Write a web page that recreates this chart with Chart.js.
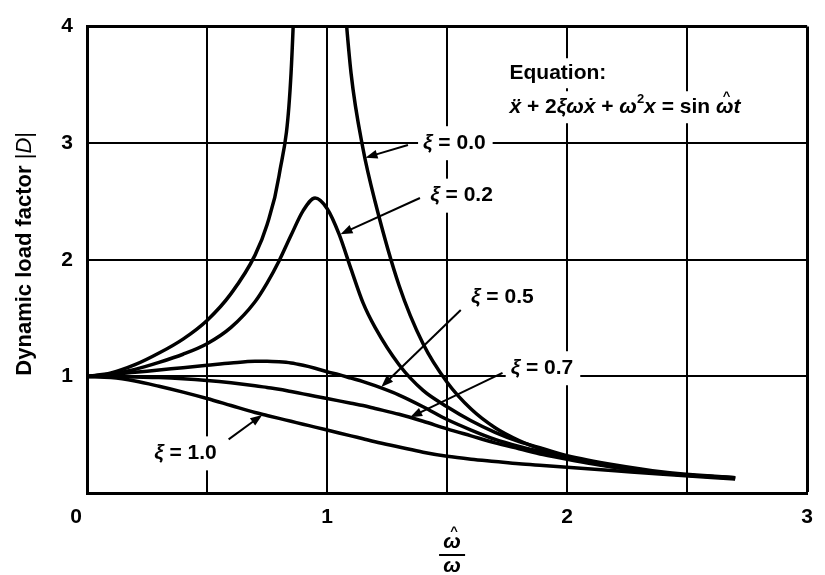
<!DOCTYPE html>
<html>
<head>
<meta charset="utf-8">
<script src="https://cdn.jsdelivr.net/npm/chart.js@4.4.0/dist/chart.umd.min.js"></script>
<style>
  html, body { margin: 0; padding: 0; background: #fff; }
  #wrap { width: 825px; height: 575px; position: relative; }
</style>
</head>
<body>
<div id="wrap"><canvas id="dlfChart"></canvas></div>
<script>
// frequency ratio (omega hat / omega) where the curves were read
var ratio = [0, 0.1, 0.2, 0.3, 0.4, 0.5, 0.6, 0.7, 0.75, 0.8, 0.85, 0.9, 0.95, 1.0, 1.05, 1.1, 1.15, 1.2, 1.3, 1.4, 1.5, 1.6, 1.7, 1.8, 1.9, 2.0, 2.2, 2.4, 2.7];

// dynamic load factor |D|
var damp00 = [1, 1.03, 1.1, 1.2, 1.32, 1.48, 1.71, 2.04, 2.3, 2.72, 3.6, 6.5, null, null, 4.8, 3.6, 2.95, 2.5, 1.78, 1.28, 0.95, 0.72, 0.56, 0.45, 0.37, 0.31, 0.22, 0.17, 0.13];
var damp02 = [1, 1.02, 1.06, 1.12, 1.19, 1.28, 1.42, 1.64, 1.8, 1.99, 2.21, 2.42, 2.53, 2.44, 2.22, 1.92, 1.63, 1.42, 1.1, 0.88, 0.74, 0.62, 0.52, 0.44, 0.38, 0.32, 0.24, 0.18, 0.13];
var damp05 = [1, 1.015, 1.035, 1.055, 1.075, 1.095, 1.115, 1.13, 1.13, 1.125, 1.115, 1.095, 1.07, 1.04, 1.015, 0.985, 0.955, 0.92, 0.84, 0.74, 0.63, 0.54, 0.46, 0.4, 0.35, 0.3, 0.23, 0.17, 0.13];
var damp07 = [1, 1.0, 0.995, 0.99, 0.98, 0.965, 0.945, 0.92, 0.905, 0.89, 0.87, 0.85, 0.83, 0.81, 0.79, 0.77, 0.75, 0.725, 0.675, 0.615, 0.55, 0.49, 0.43, 0.38, 0.33, 0.29, 0.22, 0.17, 0.125];
var damp10 = [1, 0.99, 0.96, 0.915, 0.865, 0.81, 0.75, 0.69, 0.665, 0.64, 0.615, 0.59, 0.565, 0.54, 0.515, 0.49, 0.465, 0.44, 0.395, 0.35, 0.315, 0.29, 0.27, 0.25, 0.235, 0.22, 0.19, 0.16, 0.12];

var xTickLabels = [0, 1, 2, 3];
var yTickLabels = [1, 2, 3, 4];

var curveNames = ['0.0', '0.2', '0.5', '0.7', '1.0'];

// where the curve labels and their arrows sit, in data units
var notePos = [[1.40, 3.0], [1.43, 2.55], [1.60, 1.68], [1.765, 1.07], [0.28, 0.34]];
var arrowFrom = [[1.337, 2.985], [1.387, 2.53], [1.557, 1.57], [1.731, 1.03], [0.59, 0.46]];
var arrowTo = [[1.16, 2.876], [1.056, 2.22], [1.226, 0.91], [1.346, 0.65], [0.73, 0.67]];
var eqPos = [1.76, 3.6];

var FAMILY = '"Liberation Sans", Arial, Helvetica, sans-serif';
var FS = 21;

function makePoints(ys) {
    return ratio.map(function (r, i) { return { x: r, y: ys[i] }; });
}

function setFont(ctx, p, size) {
    var fs = p.sup ? Math.round(size * 0.62) : size;
    ctx.font = (p.i ? 'italic ' : '') + (p.light ? '' : 'bold ') + fs + 'px ' + FAMILY;
}

function partsWidth(ctx, parts, size) {
    var w = 0;
    parts.forEach(function (p) {
        setFont(ctx, p, size);
        w += ctx.measureText(p.t).width;
    });
    return w;
}

function drawHat(ctx, x, y) {
    ctx.save();
    ctx.font = 'bold 13px ' + FAMILY;
    ctx.textAlign = 'center';
    ctx.textBaseline = 'middle';
    ctx.fillText('^', x, y);
    ctx.restore();
}

function drawParts(ctx, parts, x, y, size) {
    var cx = x;
    parts.forEach(function (p) {
        setFont(ctx, p, size);
        var w = ctx.measureText(p.t).width;
        ctx.fillText(p.t, cx, p.sup ? y - size * 0.38 : y);
        // circumflex placed by hand, combining marks land on the wrong glyph
        if (p.hat) drawHat(ctx, cx + w / 2 + 2, y - 11);
        cx += w;
    });
    return cx - x;
}

function labelParts(name) {
    return [{ t: 'ξ', i: 1 }, { t: ' = ' + name }];
}

var eqLine1 = [{ t: 'Equation:' }];
var eqLine2 = [
    { t: 'ẍ', i: 1 }, { t: ' + 2' }, { t: 'ξω', i: 1 }, { t: 'ẋ', i: 1 }, { t: ' + ' },
    { t: 'ω', i: 1 }, { t: '2', sup: 1 }, { t: 'x', i: 1 }, { t: ' = sin ' },
    { t: 'ω', i: 1, hat: 1 }, { t: 't', i: 1 }
];

function px(chart, pt) {
    return [chart.scales.x.getPixelForValue(pt[0]), chart.scales.y.getPixelForValue(pt[1])];
}

function arrow(ctx, a, b) {
    var ang = Math.atan2(b[1] - a[1], b[0] - a[0]);
    var len = 12, half = 4.5;
    ctx.beginPath();
    ctx.moveTo(a[0], a[1]);
    ctx.lineTo(b[0] - Math.cos(ang) * len * 0.8, b[1] - Math.sin(ang) * len * 0.8);
    ctx.stroke();
    ctx.beginPath();
    ctx.moveTo(b[0], b[1]);
    ctx.lineTo(b[0] - Math.cos(ang) * len - Math.sin(ang) * half, b[1] - Math.sin(ang) * len + Math.cos(ang) * half);
    ctx.lineTo(b[0] - Math.cos(ang) * len + Math.sin(ang) * half, b[1] - Math.sin(ang) * len - Math.cos(ang) * half);
    ctx.closePath();
    ctx.fill();
}

var annotate = {
    id: 'annotate',
    beforeDatasetsDraw: function (chart) {
        // white patches so the grid breaks behind the text, like the print
        var ctx = chart.ctx;
        ctx.save();
        ctx.fillStyle = '#fff';
        notePos.forEach(function (pos, i) {
            var p = px(chart, pos);
            var w = partsWidth(ctx, labelParts(curveNames[i]), FS);
            ctx.fillRect(p[0] - 5, p[1] - 17, w + 12, 34);
        });
        var e = px(chart, eqPos);
        ctx.fillRect(e[0] - 6, e[1] - 15, partsWidth(ctx, eqLine1, FS) + 12, 30);
        ctx.fillRect(e[0] - 6, e[1] + 18, partsWidth(ctx, eqLine2, FS) + 14, 32);
        ctx.restore();
    },
    afterDatasetsDraw: function (chart) {
        var ctx = chart.ctx;
        ctx.save();
        ctx.fillStyle = '#000';
        ctx.strokeStyle = '#000';
        ctx.lineWidth = 2;
        ctx.textBaseline = 'middle';
        ctx.textAlign = 'left';
        notePos.forEach(function (pos, i) {
            var p = px(chart, pos);
            drawParts(ctx, labelParts(curveNames[i]), p[0], p[1], FS);
            arrow(ctx, px(chart, arrowFrom[i]), px(chart, arrowTo[i]));
        });
        var e = px(chart, eqPos);
        drawParts(ctx, eqLine1, e[0], e[1], FS);
        drawParts(ctx, eqLine2, e[0], e[1] + 34, FS);
        ctx.restore();
    },
    afterDraw: function (chart) {
        var ctx = chart.ctx;
        var area = chart.chartArea;
        ctx.save();
        ctx.fillStyle = '#000';
        ctx.strokeStyle = '#000';
        ctx.textBaseline = 'middle';
        ctx.textAlign = 'center';

        // the corner "0" sits a little left of the axis in the print
        ctx.font = 'bold ' + FS + 'px ' + FAMILY;
        ctx.fillText('0', chart.scales.x.getPixelForValue(0) - 11, area.bottom + 24);

        // y axis title, rotated
        ctx.textAlign = 'left';
        var yParts = [{ t: 'Dynamic load factor ' }, { t: '|', light: 1 }, { t: 'D', i: 1, light: 1 }, { t: '|', light: 1 }];
        ctx.translate(25, (area.top + area.bottom) / 2 - 6);
        ctx.rotate(-Math.PI / 2);
        var w = partsWidth(ctx, yParts, 22);
        drawParts(ctx, yParts, -w / 2, 0, 22);
        ctx.setTransform(1, 0, 0, 1, 0, 0);
        ctx.scale(chart.currentDevicePixelRatio, chart.currentDevicePixelRatio);

        // x axis title: omega hat over omega
        var cx = (area.left + area.right) / 2 + 5;
        ctx.textAlign = 'center';
        ctx.font = 'italic bold 21px ' + FAMILY;
        ctx.fillText('ω', cx, 542);
        drawHat(ctx, cx + 2, 531);
        ctx.lineWidth = 2;
        ctx.beginPath();
        ctx.moveTo(cx - 13, 555);
        ctx.lineTo(cx + 13, 555);
        ctx.stroke();
        ctx.font = 'italic bold 21px ' + FAMILY;
        ctx.fillText('ω', cx, 566);
        ctx.restore();
    }
};

function curve(ys) {
    return {
        data: makePoints(ys),
        borderColor: '#000',
        borderWidth: 3.5,
        pointRadius: 0,
        fill: false,
        cubicInterpolationMode: 'monotone',
        spanGaps: false,
        clip: { left: 2, top: 0, right: 2, bottom: 2 }
    };
}

var chart = new Chart(document.getElementById('dlfChart').getContext('2d'), {
    type: 'line',
    data: {
        datasets: [curve(damp00), curve(damp02), curve(damp05), curve(damp07), curve(damp10)]
    },
    options: {
        responsive: true,
        maintainAspectRatio: false,
        animation: false,
        layout: { padding: { left: 0, top: 16, right: 13, bottom: 0 } },
        plugins: { legend: { display: false }, tooltip: { enabled: false } },
        scales: {
            x: {
                type: 'linear',
                min: 0,
                max: 3,
                afterFit: function (s) { s.height = 82; },
                ticks: {
                    stepSize: 0.5,
                    color: '#000',
                    padding: 12,
                    maxRotation: 0,
                    font: { family: FAMILY, size: FS, weight: 'bold' },
                    // 0 is drawn by the plugin, shifted left as in the print
                    callback: function (v) { return v !== 0 && xTickLabels.indexOf(v) >= 0 ? String(v) : ''; }
                },
                grid: {
                    color: '#000',
                    drawTicks: false,
                    lineWidth: function (c) { return c.tick && c.tick.value === 3 ? 3 : 2; }
                },
                border: { color: '#000', width: 3 }
            },
            y: {
                type: 'linear',
                min: 0,
                max: 4,
                afterFit: function (s) { s.width = 87; },
                ticks: {
                    stepSize: 1,
                    color: '#000',
                    padding: 14,
                    font: { family: FAMILY, size: FS, weight: 'bold' },
                    callback: function (v) { return yTickLabels.indexOf(v) >= 0 ? String(v) : ''; }
                },
                grid: {
                    color: '#000',
                    drawTicks: false,
                    lineWidth: function (c) { return c.tick && c.tick.value === 4 ? 3 : 2; }
                },
                border: { color: '#000', width: 3 }
            }
        }
    },
    plugins: [annotate]
});
</script>
</body>
</html>
